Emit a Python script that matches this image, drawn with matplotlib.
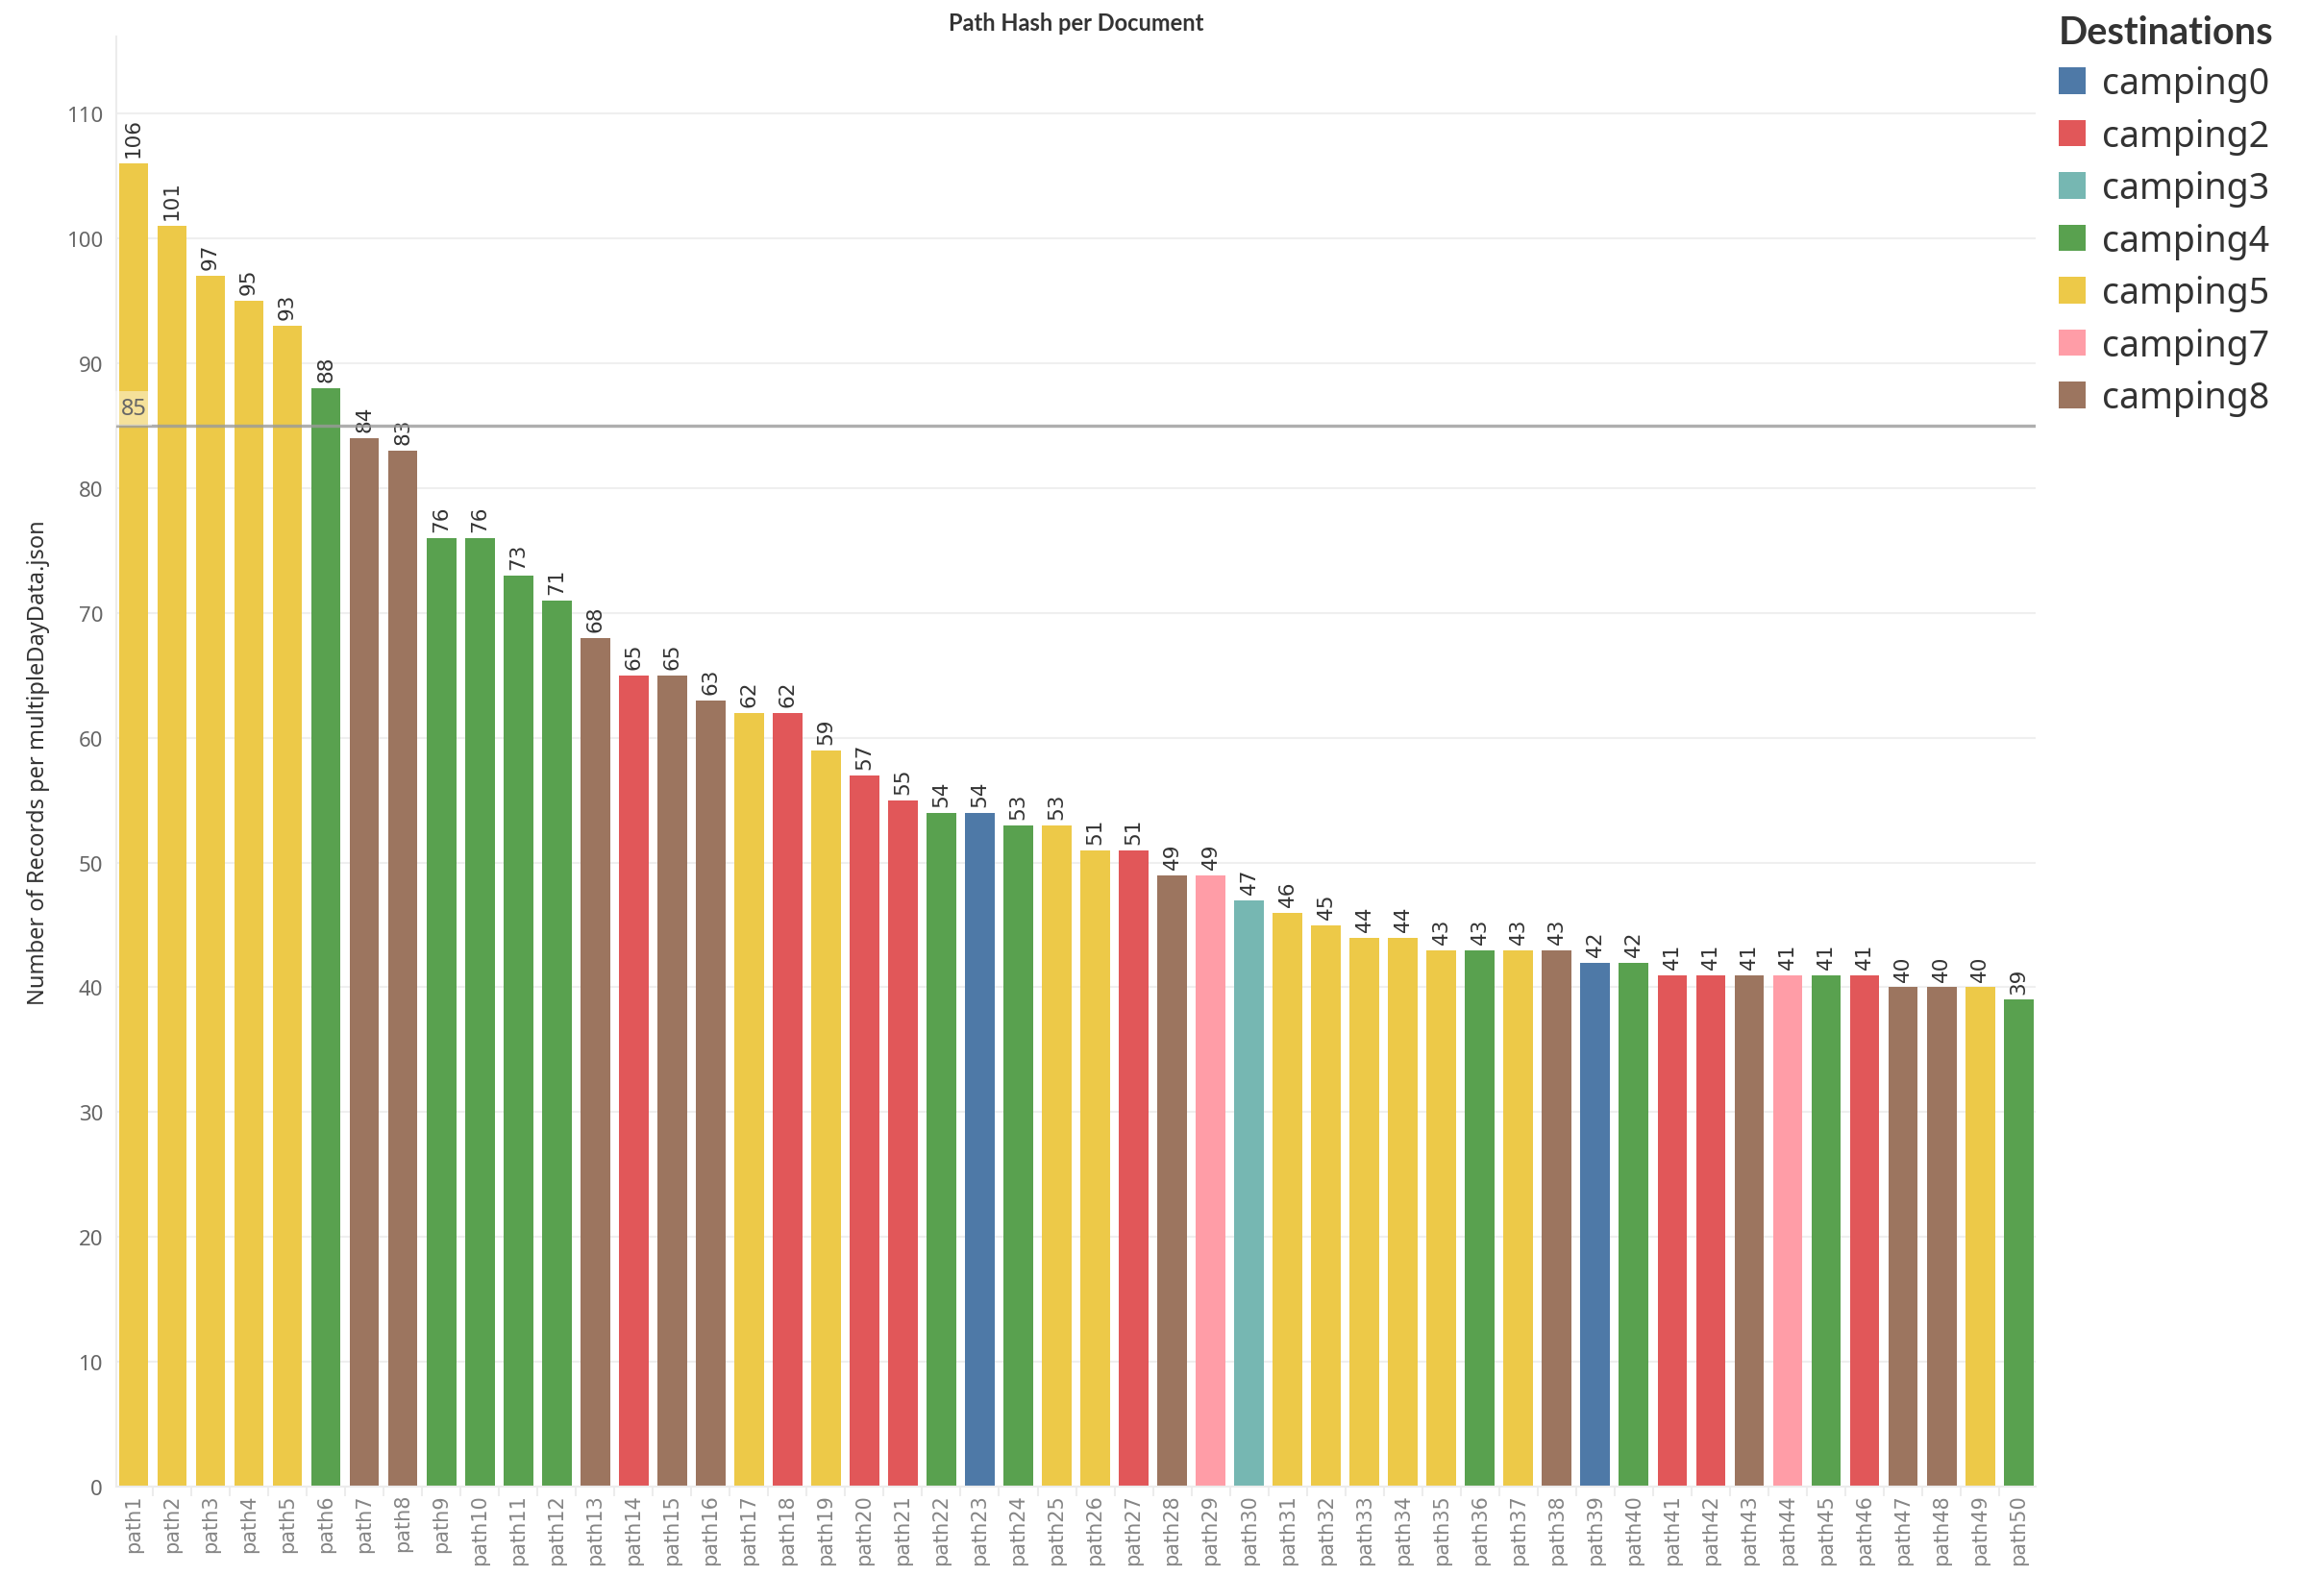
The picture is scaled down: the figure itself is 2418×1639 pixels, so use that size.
import matplotlib
matplotlib.use('Agg')
import matplotlib.pyplot as plt
from matplotlib.patches import Patch

# data
paths = ['path%d' % i for i in range(1, 51)]
records = [106, 101, 97, 95, 93, 88, 84, 83, 76, 76,
           73, 71, 68, 65, 65, 63, 62, 62, 59, 57,
           55, 54, 54, 53, 53, 51, 51, 49, 49, 47,
           46, 45, 44, 44, 43, 43, 43, 43, 42, 42,
           41, 41, 41, 41, 41, 41, 40, 40, 40, 39]
destinations = ['camping5'] * 5 + ['camping4', 'camping8', 'camping8',
                'camping4', 'camping4', 'camping4', 'camping4', 'camping8',
                'camping2', 'camping8', 'camping8', 'camping5', 'camping2',
                'camping5', 'camping2', 'camping2', 'camping4', 'camping0',
                'camping4', 'camping5', 'camping5', 'camping2', 'camping8',
                'camping7', 'camping3', 'camping5', 'camping5', 'camping5',
                'camping5', 'camping5', 'camping4', 'camping5', 'camping8',
                'camping0', 'camping4', 'camping2', 'camping2', 'camping8',
                'camping7', 'camping4', 'camping2', 'camping8', 'camping8',
                'camping5', 'camping4']
legend_names = ['camping0', 'camping2', 'camping3', 'camping4',
                'camping5', 'camping7', 'camping8']
REF_VALUE = 85

palette = {'camping0': '#4E79A7', 'camping2': '#E15759', 'camping3': '#76B7B2',
           'camping4': '#59A14F', 'camping5': '#EDC948', 'camping7': '#FF9DA7',
           'camping8': '#9C755F'}
BOLD_FONT = ['Lato', 'DejaVu Sans']

fig = plt.figure(figsize=(24.18, 16.40), dpi=100)
ax = fig.add_axes([0.050, 0.056, 0.826, 0.9205])

x = list(range(len(paths)))
colors = [palette[d] for d in destinations]
ax.bar(x, records, width=0.77, color=colors, zorder=2)

for xi, v in zip(x, records):
    ax.annotate(str(v), (xi, v), xytext=(0, 5), textcoords='offset points',
                rotation=90, ha='center', va='bottom', fontsize=15.5,
                color='#333333', family='DejaVu Sans')

# reference line
ax.axhline(REF_VALUE, color='#9a9a9a', lw=2.4, alpha=0.8, zorder=3)
ax.text(0, REF_VALUE + 0.45, str(REF_VALUE), ha='center', va='bottom',
        fontsize=17, color='#666666', family='Noto Sans', zorder=4,
        bbox=dict(facecolor='white', alpha=0.45, edgecolor='none', pad=4))

ax.set_xlim(-0.45, len(paths) - 0.55)
ax.set_ylim(0, 116.2)
ax.set_yticks(range(0, 111, 10))
ax.set_xticks(x)
ax.set_xticks([i + 0.5 for i in x[:-1]], minor=True)
ax.set_xticklabels(paths, rotation=90, fontsize=15, color='#858585',
                   family='DejaVu Sans')
for lab in ax.get_yticklabels():
    lab.set_family('Noto Sans')
ax.tick_params(axis='y', length=0, labelsize=16, labelcolor='#666666', pad=10)
ax.tick_params(axis='x', which='major', length=0, pad=5)
ax.tick_params(axis='x', which='minor', length=7, width=1.5, color='#ececec')
ax.grid(axis='y', color='#efefef', lw=1.5, zorder=0)
ax.set_axisbelow(True)
for s in ['top', 'right']:
    ax.spines[s].set_visible(False)
ax.spines['left'].set_color('#ececec')
ax.spines['bottom'].set_color('#ececec')
ax.spines['left'].set_linewidth(1.5)
ax.spines['bottom'].set_linewidth(1.5)

ax.set_ylabel('Number of Records per multipleDayData.json', fontsize=17,
              color='#333333', family='Noto Sans', labelpad=12)
ax.set_title('Path Hash per Document', fontsize=17, fontweight='bold',
             color='#333333', family=BOLD_FONT, pad=5)

handles = [Patch(facecolor=palette[n], edgecolor='none') for n in legend_names]
leg = fig.legend(handles, legend_names, loc='upper left',
                 bbox_to_anchor=(0.872, 1.011), frameon=False,
                 title='Destinations', handlelength=0.75,
                 handleheight=0.75, handletextpad=0.45, labelspacing=0.44,
                 alignment='left', prop={'family': 'Noto Sans', 'size': 27},
                 title_fontproperties={'family': BOLD_FONT, 'size': 28.5,
                                       'weight': 'bold'})
leg.get_title().set_color('#333333')
for t in leg.get_texts():
    t.set_color('#333333')

fig.savefig('out.png', dpi=100)
